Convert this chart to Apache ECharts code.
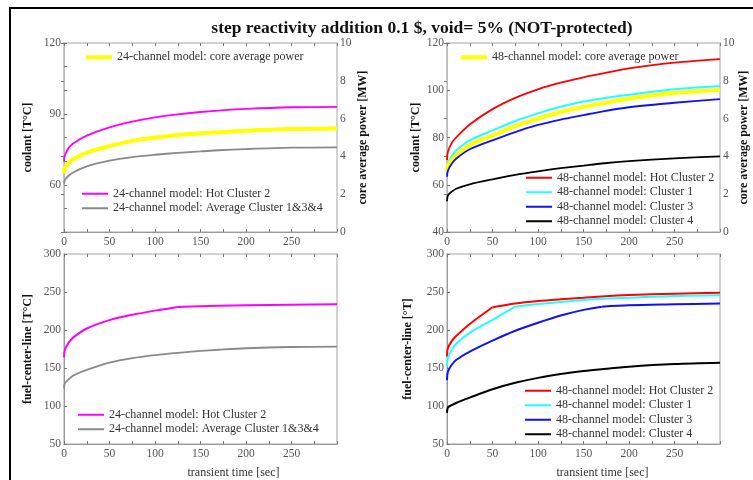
<!DOCTYPE html>
<html>
<head>
<meta charset="utf-8">
<script src="https://cdn.jsdelivr.net/npm/echarts@6/dist/echarts.min.js"></script>
<style>
  html, body { margin: 0; padding: 0; background: #fff; }
  #chart { width: 753px; height: 480px; }
</style>
</head>
<body>
<div id="chart"></div>
<script>
// transient time samples [sec]
const timeSec = [0, 1, 5, 10, 25, 50, 75, 100, 125, 150, 170, 200, 250, 300];

// 24-channel model: coolant temperature [°C] and core average power [MW]
const coolHot24 = [69.8, 72.5, 75.5, 77.5, 80.8, 84.3, 86.7, 88.5, 89.8, 90.8, 91.4, 92.1, 92.8, 93.0];
const coolAvg24 = [60.5, 62, 63.8, 65.2, 67.8, 70.2, 71.7, 72.7, 73.5, 74.1, 74.6, 75.1, 75.7, 75.85];
const power24 = [3.1, 3.4, 3.65, 3.85, 4.2, 4.55, 4.82, 5.0, 5.13, 5.22, 5.28, 5.36, 5.45, 5.48];

// 48-channel model: coolant temperature [°C] and core average power [MW]
const coolHot48 = [70.5, 74, 77.5, 80, 85.5, 92, 96.8, 100.4, 103.2, 105.5, 107, 109.3, 111.7, 113.2];
const coolC1 = [66.5, 69, 72, 74.5, 78.8, 83, 87, 90.2, 93, 95.2, 96.5, 98.1, 100.4, 101.8];
const coolC3 = [63.4, 66, 68.8, 71, 75, 78.8, 82.3, 85.3, 87.6, 89.5, 91.0, 92.8, 94.7, 96.2];
const coolC4 = [53, 55.5, 57, 58.3, 60.2, 62.3, 64.2, 65.7, 67, 68.1, 69.0, 70, 71.2, 72.0];
const power48 = [3.2, 3.5, 3.8, 4.05, 4.6, 5.1, 5.6, 6.0, 6.35, 6.62, 6.8, 7.05, 7.35, 7.52];

// fuel center-line temperature, 24-channel model
const fuelHot24 = [164, 174, 183, 190, 202, 213, 220, 225.5, 230.3, 231.2, 231.8, 232.5, 233.3, 234];
const fuelAvg24 = [123, 130, 135, 140, 147.5, 157, 163, 167, 170, 172.4, 174, 176, 177.6, 178];

// fuel center-line temperature, 48-channel model
const fuelHot48 = [165, 176, 185, 192, 208, 230, 235, 238.2, 240.5, 242.5, 244.2, 246, 247.8, 249.1];
const fuelC1 = [152, 163, 174, 182, 196.3, 213.3, 230.7, 234.2, 237, 239.5, 241, 242.5, 244.7, 245.6];
const fuelC3 = [134, 145, 154, 160.5, 171.5, 186, 199, 209.5, 219, 226.5, 230.7, 232.5, 233.8, 235];
const fuelC4 = [91, 98, 101, 104, 111, 122, 130.5, 137, 142, 146, 148.5, 151.8, 155.3, 157];

const titleText = 'step reactivity addition 0.1 $, void= 5% (NOT-protected)';
const timeTicks = [0, 50, 100, 150, 200, 250];

const SERIF = '"Liberation Serif", "DejaVu Serif", serif';
const TICK_COLOR = '#555';
const FRAME_COLOR = '#9a9a9a';

const grids = [
  { left: 64, top: 43, width: 273, height: 189 },
  { left: 447, top: 43, width: 273, height: 189 },
  { left: 64, top: 254, width: 273, height: 190 },
  { left: 447, top: 254, width: 273, height: 190 }
].map(g => Object.assign({ show: true, borderColor: '#c4c4c4', borderWidth: 1.5, containLabel: false }, g));

const tickStyle = { show: true, inside: true, length: 3, lineStyle: { color: '#777' } };

function xAxisFor(gi, withName) {
  return {
    type: 'value', gridIndex: gi, min: 0, max: 300, interval: 50,
    name: withName ? 'transient time [sec]' : '',
    nameLocation: 'middle', nameGap: 23,
    nameTextStyle: { fontFamily: SERIF, fontSize: 12, color: '#333', padding: [0, 0, 0, 66] },
    axisLine: { show: true, lineStyle: { color: FRAME_COLOR } },
    axisTick: tickStyle,
    minorTick: { show: true, splitNumber: 2, length: 3, lineStyle: { color: '#777' } },
    splitLine: { show: false },
    axisLabel: {
      margin: 4, fontFamily: SERIF, fontSize: 11.5, color: TICK_COLOR,
      formatter: v => (timeTicks.indexOf(v) >= 0 ? String(v) : '')
    }
  };
}

// tick marks along the upper frame edge
function topAxisFor(gi) {
  return {
    type: 'value', gridIndex: gi, position: 'top', min: 0, max: 300, interval: 50,
    axisLine: { show: false }, axisTick: tickStyle,
    minorTick: { show: true, splitNumber: 2, length: 3, lineStyle: { color: '#777' } },
    splitLine: { show: false }, axisLabel: { show: false }
  };
}

function yAxisFor(gi, opt) {
  return Object.assign({
    type: 'value', gridIndex: gi, nameLocation: 'middle',
    nameTextStyle: { fontFamily: SERIF, fontSize: 12, fontWeight: 'bold', color: '#111' },
    axisLine: { show: true, lineStyle: { color: FRAME_COLOR } },
    axisTick: tickStyle,
    splitLine: { show: false },
    axisLabel: { margin: 3, fontFamily: SERIF, fontSize: 11.5, color: TICK_COLOR }
  }, opt);
}

const xAxes = [xAxisFor(0, false), xAxisFor(1, false), xAxisFor(2, true), xAxisFor(3, true),
  topAxisFor(0), topAxisFor(1), topAxisFor(2), topAxisFor(3)];
xAxes[3].nameTextStyle = Object.assign({}, xAxes[3].nameTextStyle, { padding: [0, 0, 0, 38] });

const yAxes = [
  // 0: top-left coolant
  yAxisFor(0, { min: 40, max: 120, interval: 10, name: 'coolant [T°C]', nameGap: 30,
    axisLabel: { margin: 3, fontFamily: SERIF, fontSize: 11.5, color: TICK_COLOR,
      formatter: v => (v % 30 === 0 ? String(v) : '') } }),
  // 1: top-left power
  yAxisFor(0, { position: 'right', min: 0, max: 10, interval: 2, name: 'core average power [MW]', nameGap: 20,
    axisLine: { show: true, lineStyle: { color: '#c4c4c4', width: 1.5 } } }),
  // 2: top-right coolant
  yAxisFor(1, { min: 40, max: 120, interval: 20, name: 'coolant [T°C]', nameGap: 25 }),
  // 3: top-right power
  yAxisFor(1, { position: 'right', min: 0, max: 10, interval: 2, name: 'core average power [MW]', nameGap: 18,
    axisLine: { show: true, lineStyle: { color: '#c4c4c4', width: 1.5 } } }),
  // 4: bottom-left fuel
  yAxisFor(2, { min: 50, max: 300, interval: 50, name: 'fuel-center-line [T°C]', nameGap: 30 }),
  // 5: bottom-right fuel
  yAxisFor(3, { min: 50, max: 300, interval: 50, name: 'fuel-center-line [°T]', nameGap: 33 })
];

// One curve; when a kink time is given the curve is drawn as two smooth pieces
// that meet at that sample, so the corner stays sharp.
function curve(name, xi, yi, vals, color, width, kinkTime) {
  const pts = timeSec.map((t, i) => [t, vals[i]]);
  const pieces = [];
  if (kinkTime === undefined) {
    pieces.push(pts);
  } else {
    const k = timeSec.indexOf(kinkTime);
    pieces.push(pts.slice(0, k + 1), pts.slice(k));
  }
  return pieces.map(data => ({
    name, type: 'line', xAxisIndex: xi, yAxisIndex: yi,
    data, showSymbol: false, symbol: 'none',
    smooth: 0.3,
    lineStyle: { color, width }, itemStyle: { color },
    animation: false
  }));
}

const MAGENTA = '#ff00ff', GRAY = '#8a8a8a', YELLOW = '#ffff00',
      RED = '#ff0000', CYAN = '#22ffff', BLUE = '#1010ff', BLACK = '#000000';

const N = {
  hot24: '24-channel model: Hot Cluster 2',
  avg24: '24-channel model: Average Cluster 1&3&4',
  pw24: '24-channel model: core average power',
  pw48: '48-channel model: core average power',
  hot48: '48-channel model: Hot Cluster 2',
  c1: '48-channel model: Cluster 1',
  c3: '48-channel model: Cluster 3',
  c4: '48-channel model: Cluster 4'
};

const series = [].concat(
  curve(N.hot24, 0, 0, coolHot24, MAGENTA, 1.8),
  curve(N.avg24, 0, 0, coolAvg24, GRAY, 1.8),
  curve(N.pw24, 0, 1, power24, YELLOW, 4),

  curve(N.hot48, 1, 2, coolHot48, RED, 1.8),
  curve(N.c1, 1, 2, coolC1, CYAN, 2),
  curve(N.pw48, 1, 3, power48, YELLOW, 4),
  curve(N.c3, 1, 2, coolC3, BLUE, 1.8),
  curve(N.c4, 1, 2, coolC4, BLACK, 1.8),

  curve(N.hot24, 2, 4, fuelHot24, MAGENTA, 2, 125),
  curve(N.avg24, 2, 4, fuelAvg24, GRAY, 1.8),

  curve(N.hot48, 3, 5, fuelHot48, RED, 2, 50),
  curve(N.c1, 3, 5, fuelC1, CYAN, 2, 75),
  curve(N.c3, 3, 5, fuelC3, BLUE, 2, 170),
  curve(N.c4, 3, 5, fuelC4, BLACK, 2)
);

function legend(names, left, top, thick) {
  return {
    show: true, orient: 'vertical', left, top, padding: 0, itemGap: 0,
    itemWidth: 26, itemHeight: thick ? 4 : 2, icon: 'rect',
    selectedMode: false,
    textStyle: { fontFamily: SERIF, fontSize: 12, color: '#333', lineHeight: 14.5 },
    data: names
  };
}

const legends = [
  legend([N.pw24], 86, 50, true),
  legend([N.hot24, N.avg24], 82, 186.5, false),
  legend([N.pw48], 461, 50, true),
  legend([N.hot48, N.c1, N.c3, N.c4], 526, 170.5, false),
  legend([N.hot24, N.avg24], 78, 407.5, false),
  legend([N.hot48, N.c1, N.c3, N.c4], 525, 383.5, false)
];

const chart = echarts.init(document.getElementById('chart'), null, { renderer: 'canvas' });
chart.setOption({
  backgroundColor: '#fff',
  animation: false,
  grid: grids,
  xAxis: xAxes,
  yAxis: yAxes,
  legend: legends,
  series,
  graphic: [
    {
      type: 'polyline', silent: true,
      shape: { points: [[10, 490], [10, 8], [760, 8]] },
      style: { stroke: '#000', lineWidth: 2, fill: null }
    },
    {
      type: 'text', silent: true,
      style: {
        x: 422, y: 28, text: titleText, textAlign: 'center', textVerticalAlign: 'middle',
        font: 'bold 17.5px ' + SERIF, fill: '#111'
      }
    }
  ]
});
</script>
</body>
</html>
